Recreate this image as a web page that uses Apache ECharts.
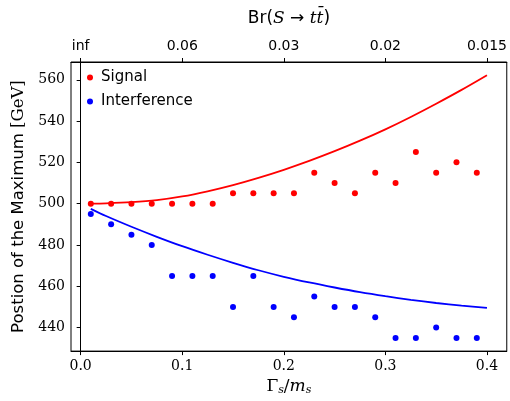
<!DOCTYPE html>
<html>
<head>
<meta charset="utf-8">
<script src="https://cdn.jsdelivr.net/npm/echarts@6/dist/echarts.min.js"></script>
<style>
  html, body { margin: 0; padding: 0; background: #fff; }
  #chart { width: 510px; height: 401px; }
</style>
</head>
<body>
<div id="chart"></div>
<script>
// Width-to-mass ratios of the simulated points
const widths = [0.01, 0.03, 0.05, 0.07, 0.09, 0.11, 0.13, 0.15, 0.17, 0.19,
                0.21, 0.23, 0.25, 0.27, 0.29, 0.31, 0.33, 0.35, 0.37, 0.39];
// Position of the maximum [GeV]
const signalPeak = [500, 500, 500, 500, 500, 500, 500, 505, 505, 505,
                    505, 515, 510, 505, 515, 510, 525, 515, 520, 515];
const interfPeak = [495, 490, 485, 480, 465, 465, 465, 450, 465, 450,
                    445, 455, 450, 450, 445, 435, 435, 440, 435, 435];

// Analytic curves, sampled
const curveX      = [0.01, 0.025, 0.05, 0.075, 0.10, 0.125, 0.15, 0.175, 0.20,
                     0.225, 0.25, 0.275, 0.30, 0.325, 0.35, 0.375, 0.40];
const signalCurve = [500.0, 500.15, 500.7, 501.7, 503.5, 506.0, 509.0, 512.5, 516.4,
                     520.7, 525.4, 530.5, 536.0, 542.0, 548.4, 555.1, 562.2];
const interfCurve = [497.5, 494.0, 488.8, 483.95, 479.4, 475.25, 471.35, 467.75, 464.6,
                     461.85, 459.4, 457.15, 455.2, 453.45, 451.9, 450.6, 449.5];

// Bottom and top axis ticks
const xTicks = [0.0, 0.1, 0.2, 0.3, 0.4];
const brLabels = ['inf', '0.06', '0.03', '0.02', '0.015'];
const yTicks = [440, 460, 480, 500, 520, 540, 560];

const pairs = (xs, ys) => xs.map((x, i) => [x, ys[i]]);

const serif = 'DejaVu Serif';
const sans = 'DejaVu Sans';

const chart = echarts.init(document.getElementById('chart'), null, { renderer: 'canvas' });

const frameLine = { show: true, lineStyle: { color: '#000', width: 1 } };

chart.setOption({
  animation: false,
  backgroundColor: '#fff',
  grid: { left: 71, right: 1, top: 62, bottom: 47, show: true,
          borderColor: '#000', borderWidth: 1, backgroundColor: 'transparent' },
  legend: {
    data: ['Signal', 'Interference'],
    orient: 'vertical',
    left: 82, top: 65,
    icon: 'circle',
    itemWidth: 6, itemHeight: 6, itemGap: 9,
    textStyle: { fontFamily: sans, fontSize: 15, color: '#000', padding: [0, 0, 0, 3] }
  },
  xAxis: [
    {
      type: 'value', min: -0.0095, max: 0.4195, position: 'bottom',
      axisLine: frameLine,
      axisTick: { show: true, inside: false, length: 4, customValues: xTicks, lineStyle: { color: '#000' } },
      axisLabel: { customValues: xTicks, fontFamily: serif, fontSize: 14, color: '#000', margin: 8,
                   formatter: v => v.toFixed(1) },
      splitLine: { show: false },
      name: '{g|Γ}{s|s}{g|/}{m|m}{s|s}',
      nameLocation: 'middle', nameGap: 20,
      nameTextStyle: {
        rich: {
          g: { fontFamily: serif, fontSize: 17, color: '#000' },
          m: { fontFamily: serif, fontStyle: 'italic', fontSize: 17, color: '#000' },
          s: { fontFamily: serif, fontStyle: 'italic', fontSize: 11, color: '#000', padding: [8, 0, 0, 0] }
        }
      }
    },
    {
      type: 'value', min: -0.0095, max: 0.4195, position: 'top',
      axisLine: frameLine,
      axisTick: { show: true, inside: false, length: 4, customValues: xTicks, lineStyle: { color: '#000' } },
      axisLabel: { customValues: xTicks, fontFamily: sans, fontSize: 14, color: '#000', margin: 9,
                   formatter: v => brLabels[Math.round(v * 10)] },
      splitLine: { show: false },
      name: '{r|Br(}{i|S}{r| → }{i|tt\u0304}{r|)}',
      nameLocation: 'middle', nameGap: 35,
      nameTextStyle: {
        rich: {
          r: { fontFamily: sans, fontSize: 17, color: '#000' },
          i: { fontFamily: serif, fontStyle: 'italic', fontSize: 17, color: '#000' }
        }
      }
    }
  ],
  yAxis: {
    type: 'value', min: 428.6, max: 568.6,
    axisLine: frameLine,
    axisTick: { show: true, inside: false, length: 4, customValues: yTicks, lineStyle: { color: '#000' } },
    axisLabel: { customValues: yTicks, fontFamily: serif, fontSize: 14, color: '#000', margin: 6 },
    splitLine: { show: false },
    name: '{a|Postion of the Maximum }{b|[GeV]}',
    nameLocation: 'middle', nameGap: 41, nameRotate: 90,
    nameTextStyle: {
      rich: {
        a: { fontFamily: sans, fontSize: 16.5, color: '#000' },
        b: { fontFamily: serif, fontSize: 16.5, color: '#000' }
      }
    }
  },
  series: [
    {
      name: 'Signal', type: 'scatter', data: pairs(widths, signalPeak),
      symbolSize: 6, itemStyle: { color: '#ff0000', opacity: 1 }, z: 3
    },
    {
      name: 'Interference', type: 'scatter', data: pairs(widths, interfPeak),
      symbolSize: 6, itemStyle: { color: '#0000ff', opacity: 1 }, z: 3
    },
    {
      name: 'signalFit', type: 'line', data: pairs(curveX, signalCurve),
      smooth: 0.3, showSymbol: false, lineStyle: { color: '#ff0000', width: 1.8 }, z: 2
    },
    {
      name: 'interfFit', type: 'line', data: pairs(curveX, interfCurve),
      smooth: 0.3, showSymbol: false, lineStyle: { color: '#0000ff', width: 1.8 }, z: 2
    }
  ]
});
</script>
</body>
</html>
